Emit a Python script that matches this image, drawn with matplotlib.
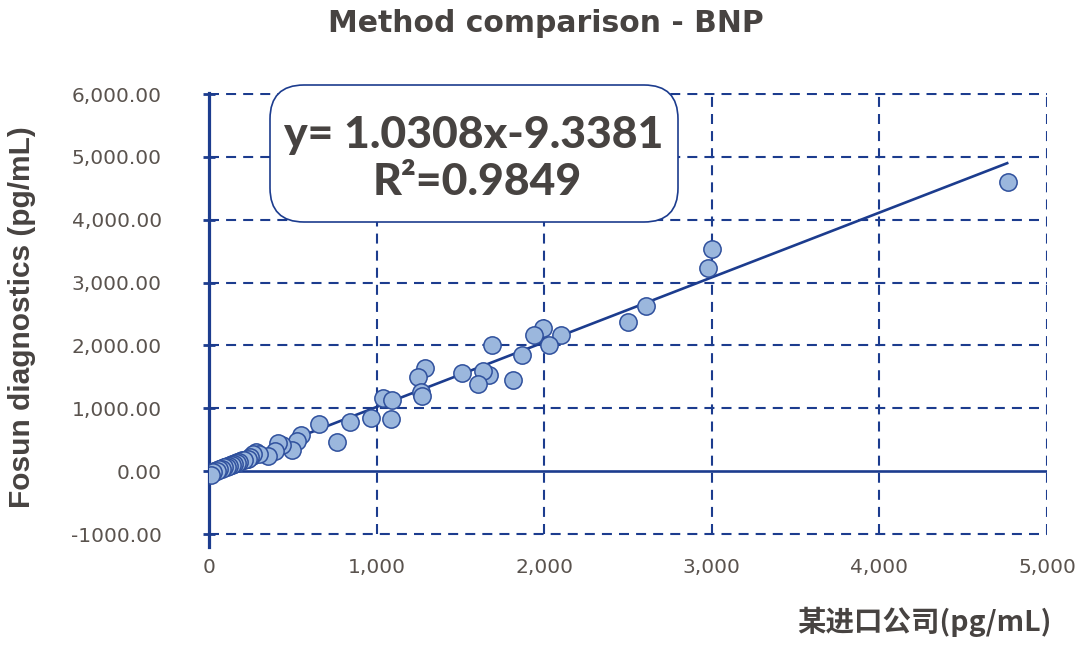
import matplotlib
matplotlib.use("Agg")
import matplotlib.pyplot as plt
from matplotlib.patches import FancyBboxPatch
from matplotlib.transforms import IdentityTransform
import numpy as np

# ---- data ----
x_ref = [4770, 3000, 2975, 2605, 2500, 2100, 1995, 1940, 2030, 1870, 1815,
         1690, 1670, 1635, 1605, 1510, 1290, 1250, 1265, 1270, 1040, 1090,
         1085, 965, 840, 765, 655, 550, 525, 495, 435, 410, 395, 350, 280,
         255, 225, 185, 200, 170, 155, 140, 125, 110, 95, 80, 65, 50, 40,
         30, 20, 10, 5, 0,
         300, 265, 245, 230, 210, 180, 165, 150, 135, 120, 105, 90, 75, 60,
         45, 25, 15]
y_fosun = [4600, 3530, 3240, 2620, 2370, 2170, 2280, 2170, 2000, 1850, 1450,
           2000, 1530, 1600, 1390, 1560, 1640, 1500, 1260, 1200, 1170, 1130,
           830, 850, 780, 460, 750, 580, 480, 340, 410, 450, 320, 240, 300,
           240, 190, 160, 170, 140, 130, 110, 100, 80, 70, 50, 40, 20, 10,
           0, -10, -30, -40, -50,
           270, 270, 230, 200, 170, 150, 130, 110, 100, 90, 70, 60, 30, 30,
           0, -20, -60]
slope = 1.0308
intercept = -9.3381
r2 = 0.9849

xticks = [0, 1000, 2000, 3000, 4000, 5000]
xtick_labels = ["0", "1,000", "2,000", "3,000", "4,000", "5,000"]
yticks = [-1000, 0, 1000, 2000, 3000, 4000, 5000, 6000]
ytick_labels = ["-1000.00", "0.00", "1,000.00", "2,000.00", "3,000.00",
                "4,000.00", "5,000.00", "6,000.00"]

title = "Method comparison - BNP"
xlabel = "某进口公司(pg/mL)"
ylabel = "Fosun diagnostics (pg/mL)"

# ---- style ----
NAVY = "#1c3c8e"
FACE = "#9bb7dd"
EDGE = "#2f509d"
TXT = "#474341"
TICK_TXT = "#5a534e"
W, H = 1080, 646

fig = plt.figure(figsize=(10.8, 6.46), dpi=100)
ax = fig.add_axes([0.1935, 0.1529, 0.7759, 0.7025])
ax.set_xlim(0, 5000)
ax.set_ylim(-1210, 6010)

# grid (dashed), limited to the tick range
dash = (0, (4.8, 3.4))
ax.vlines(xticks[1:], yticks[0], yticks[-1], colors=NAVY, linewidth=1.5,
          linestyles=[dash], zorder=1)
ax.hlines([t for t in yticks if t != 0], xticks[0], xticks[-1], colors=NAVY,
          linewidth=1.5, linestyles=[dash], zorder=1)
# solid zero line
ax.hlines([0], xticks[0], xticks[-1], colors=NAVY, linewidth=1.9, zorder=2)

# spines
for s in ["top", "right", "bottom"]:
    ax.spines[s].set_visible(False)
ax.spines["left"].set_color(NAVY)
ax.spines["left"].set_linewidth(2.3)

ax.set_xticks(xticks)
ax.set_xticklabels(xtick_labels)
ax.set_yticks(yticks)
ax.set_yticklabels(ytick_labels)
ax.tick_params(axis="x", length=0, pad=8, labelsize=14.5, labelcolor=TICK_TXT)
ax.tick_params(axis="y", direction="inout", length=8, width=2, color=NAVY,
               pad=30, labelsize=14.5, labelcolor=TICK_TXT)

# regression line
xs = np.array([min(x_ref), max(x_ref)])
ax.plot(xs, slope * xs + intercept, color=NAVY, linewidth=1.9, zorder=3,
        solid_capstyle="butt")

# points
ax.scatter(x_ref, y_fosun, s=155, facecolor=FACE, edgecolor=EDGE,
           linewidth=1.1, zorder=4)

# equation box (pixel placement)
box = FancyBboxPatch((270, H - 222), 408, 137,
                     boxstyle="round,pad=0,rounding_size=34",
                     transform=IdentityTransform(), facecolor="white",
                     edgecolor=NAVY, linewidth=1.2, zorder=6)
fig.add_artist(box)
eq_kw = dict(ha="center", va="center", fontsize=32, fontweight="black",
             family=["Lato", "DejaVu Sans"], color=TXT, zorder=7)
fig.text(474 / W, 1 - 135 / H, f"y= {slope:.4f}x{intercept:.4f}", **eq_kw)
fig.text(477 / W, 1 - 182 / H, f"R²={r2:.4f}", **eq_kw)

# labels
fig.text(546 / W, 1 - 23 / H, title, ha="center", va="center",
         fontsize=21.5, fontweight="bold", family=["DejaVu Sans"],
         color=TXT)
ax.set_ylabel(ylabel, fontsize=21.5, fontweight="bold",
              family=["Liberation Sans", "DejaVu Sans"], color=TXT)
ax.yaxis.label.set_va("center")
ax.yaxis.set_label_coords((22 - 209) / 838, (547 - 317) / 453.6)
ax.set_xlabel(xlabel, fontsize=20.5, fontweight="bold",
              family=["Noto Sans CJK SC", "DejaVu Sans"], color=TXT)
ax.xaxis.label.set_ha("right")
ax.xaxis.label.set_va("center")
ax.xaxis.set_label_coords((1052 - 209) / 838, (547 - 622) / 453.6)

fig.savefig("out.png", dpi=100)
